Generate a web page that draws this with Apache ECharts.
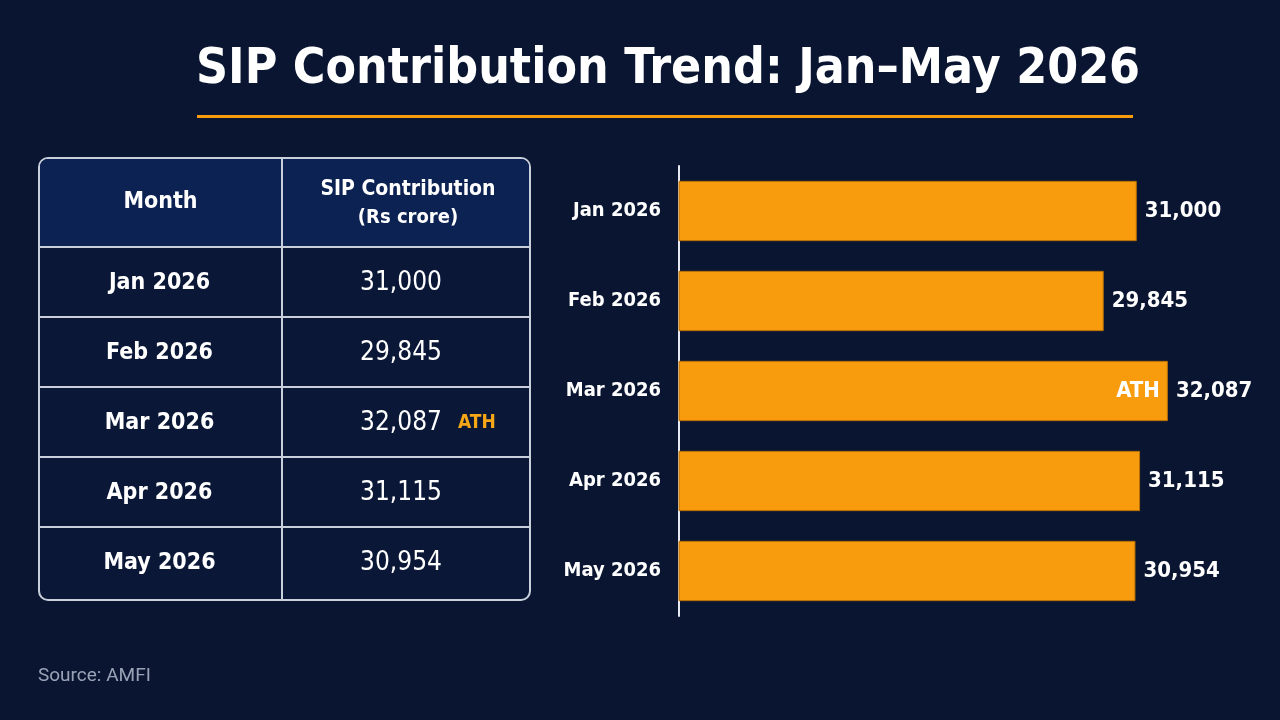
<!DOCTYPE html>
<html>
<head>
<meta charset="utf-8">
<title>SIP Contribution Trend</title>
<script src="https://cdn.jsdelivr.net/npm/echarts@6/dist/echarts.min.js"></script>
<style>
  html, body { margin: 0; padding: 0; background: #0a1631; }
  #chart { width: 1280px; height: 720px; }
</style>
</head>
<body>
<div id="chart"></div>
<script>
// data
var months = ['Jan 2026', 'Feb 2026', 'Mar 2026', 'Apr 2026', 'May 2026'];
var sipValues = [31000, 29845, 32087, 31115, 30954];
var athFlags = [false, false, true, false, false];
var headMonth = 'Month';
var headValue = ['SIP Contribution', '(Rs crore)'];

var NARROW = "'Liberation Sans Narrow', 'DejaVu Sans Condensed', 'Roboto', sans-serif";
var ORANGE = '#f89c0e';

function fmt(v) {
    return v.toLocaleString('en-US');
}

//#region table
var _buildTable = function () {
    var x0 = 39, x1 = 530, xMid = 282;
    var top = 158, headH = 89, rowH = 70;
    var bottom = top + headH + rowH * months.length + 3;
    var els = [];

    els.push({
        type: 'rect', z: 1,
        shape: { x: x0, y: top, width: x1 - x0, height: bottom - top, r: 9 },
        style: { fill: '#0a1737', stroke: '#c9d0dc', lineWidth: 2 }
    });
    els.push({
        type: 'rect', z: 2,
        shape: { x: x0 + 1, y: top + 1, width: x1 - x0 - 2, height: headH - 1, r: [8, 8, 0, 0] },
        style: { fill: '#0c2253' }
    });
    // header texts
    els.push({
        type: 'text', z: 5, x: (x0 + xMid) / 2, y: top + headH / 2,
        style: { text: headMonth, fill: '#fff', font: 'bold 23px ' + NARROW, align: 'center', verticalAlign: 'middle' }
    });
    els.push({
        type: 'text', z: 5, x: (xMid + x1) / 2 + 2, y: top + 32,
        style: { text: headValue[0], fill: '#fff', font: 'bold 21px ' + NARROW, align: 'center', verticalAlign: 'middle' }
    });
    els.push({
        type: 'text', z: 5, x: (xMid + x1) / 2 + 2, y: top + 60,
        style: { text: headValue[1], fill: '#fff', font: 'bold 20px ' + NARROW, align: 'center', verticalAlign: 'middle' }
    });

    // rows
    for (var i = 0; i < months.length; i++) {
        var yTop = top + headH + rowH * i;
        var yc = yTop + rowH / 2 + 1;
        els.push({
            type: 'line', z: 4,
            shape: { x1: x0, y1: yTop, x2: x1, y2: yTop },
            style: { stroke: '#c9d0dc', lineWidth: 2 }
        });
        els.push({
            type: 'text', z: 5, x: (x0 + xMid) / 2 - 1, y: yc,
            style: { text: months[i], fill: '#fff', font: 'bold 23px ' + NARROW, align: 'center', verticalAlign: 'middle' }
        });
        els.push({
            type: 'text', z: 5, x: 401, y: yc,
            style: { text: fmt(sipValues[i]), fill: '#fff', font: '26px ' + NARROW, align: 'center', verticalAlign: 'middle' }
        });
        if (athFlags[i]) {
            els.push({
                type: 'text', z: 5, x: 458, y: yc,
                style: { text: 'ATH', fill: '#f5a716', font: 'bold 19px ' + NARROW, align: 'left', verticalAlign: 'middle' }
            });
        }
    }
    els.push({
        type: 'line', z: 4,
        shape: { x1: xMid, y1: top, x2: xMid, y2: bottom },
        style: { stroke: '#c9d0dc', lineWidth: 2 }
    });
    return els;
};
//#endregion

var oChart = echarts.init(document.getElementById('chart'));

var option = {
    backgroundColor: '#0a1631',
    animation: false,
    title: {
        text: 'SIP Contribution Trend: Jan\u2013May 2026',
        left: 191,
        top: 40,
        textStyle: { color: '#fff', fontSize: 49.5, fontWeight: 'bold', fontFamily: NARROW }
    },
    graphic: [{
        type: 'rect',
        shape: { x: 197, y: 115, width: 936, height: 3 },
        style: { fill: ORANGE }
    }].concat(_buildTable(), [{
        type: 'text', x: 38, y: 676,
        style: { text: 'Source: AMFI', fill: '#9aa3b6', font: '19px Roboto, sans-serif', verticalAlign: 'middle' }
    }]),
    grid: { left: 679, top: 166, width: 515, height: 450 },
    xAxis: {
        type: 'value',
        min: 15000,
        max: 33000,
        show: false
    },
    yAxis: {
        type: 'category',
        data: months,
        inverse: true,
        axisLine: { show: true, lineStyle: { color: '#e6e9ef', width: 2 } },
        axisTick: { show: false },
        axisLabel: { color: '#fff', fontSize: 20, fontWeight: 'bold', fontFamily: NARROW, margin: 18 }
    },
    series: [{
        name: 'SIP',
        type: 'bar',
        data: sipValues,
        barCategoryGap: '33%',
        itemStyle: { color: ORANGE, borderColor: '#b86e06', borderWidth: 1 },
        label: {
            show: true,
            position: 'right',
            distance: 8,
            color: '#fff',
            fontSize: 22,
            fontWeight: 'bold',
            fontFamily: NARROW,
            formatter: function (p) { return fmt(p.value); }
        },
        z: 2
    }, {
        name: 'ATH',
        type: 'bar',
        data: sipValues,
        barGap: '-100%',
        barCategoryGap: '33%',
        itemStyle: { color: 'rgba(0,0,0,0)' },
        label: {
            show: true,
            position: 'insideRight',
            distance: 8,
            color: '#fff',
            fontSize: 22,
            fontWeight: 'bold',
            fontFamily: NARROW,
            formatter: function (p) { return athFlags[p.dataIndex] ? 'ATH' : ''; }
        },
        z: 3
    }]
};

oChart.setOption(option);
</script>
</body>
</html>
